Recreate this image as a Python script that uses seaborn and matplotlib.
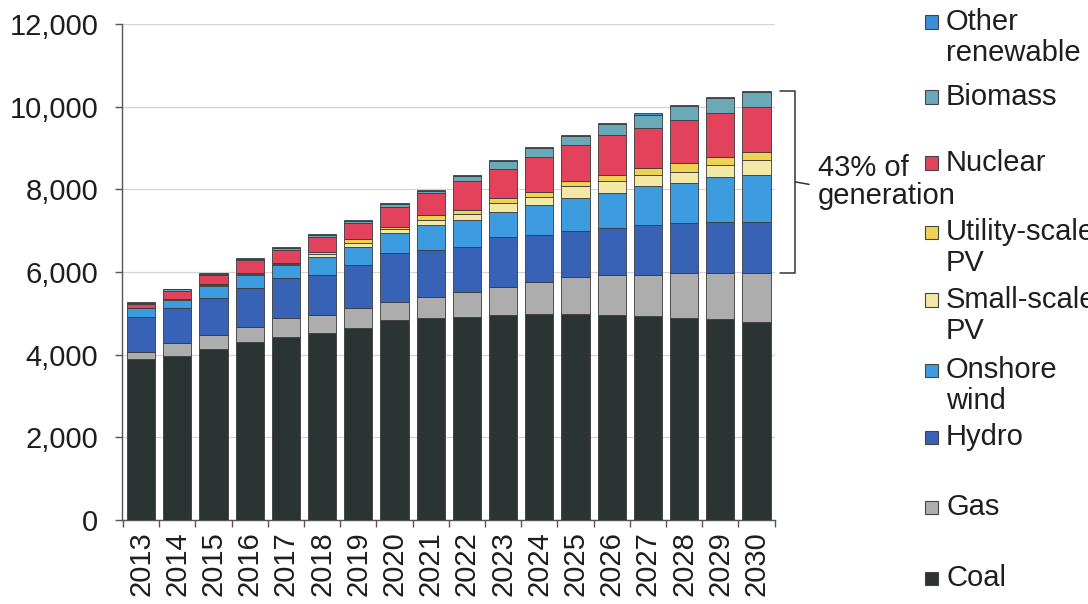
import numpy as np
import pandas as pd
import matplotlib
matplotlib.use("Agg")
import matplotlib.pyplot as plt
from matplotlib.patches import Rectangle
from matplotlib.ticker import FuncFormatter, FixedLocator, NullLocator
import seaborn as sns

years = [str(y) for y in range(2013, 2031)]

coal = [3900, 3970, 4140, 4310, 4430, 4520, 4640, 4840, 4880, 4920, 4960, 4980, 4980, 4960, 4930, 4880, 4860, 4780]
gas = [170, 310, 340, 360, 460, 440, 480, 440, 520, 600, 680, 790, 910, 970, 1000, 1090, 1110, 1190]
hydro = [830, 840, 890, 940, 960, 970, 1050, 1170, 1130, 1090, 1210, 1130, 1090, 1130, 1210, 1210, 1250, 1250]
onshore_wind = [220, 200, 290, 320, 320, 440, 440, 490, 610, 650, 610, 720, 800, 840, 930, 970, 1090, 1130]
small_pv = [10, 10, 20, 20, 30, 60, 90, 90, 120, 140, 200, 200, 290, 290, 280, 280, 280, 360]
utility_pv = [10, 10, 20, 20, 20, 60, 90, 70, 120, 100, 120, 120, 120, 160, 160, 200, 200, 200]
nuclear = [90, 200, 220, 310, 310, 360, 400, 480, 520, 690, 710, 850, 880, 970, 970, 1050, 1050, 1090]
biomass = [30, 40, 30, 30, 40, 50, 50, 60, 60, 130, 190, 210, 220, 250, 330, 330, 370, 360]
other_renewable = [20, 20, 20, 20, 30, 20, 20, 20, 20, 30, 30, 30, 30, 30, 30, 30, 30, 30]

series_names = ["Coal", "Gas", "Hydro", "Onshore wind", "Small-scale PV",
                "Utility-scale PV", "Nuclear", "Biomass", "Other renewable"]
series_values = [coal, gas, hydro, onshore_wind, small_pv, utility_pv,
                 nuclear, biomass, other_renewable]
series_colors = ["#2b3333", "#adadad", "#3762b6", "#3d9be0", "#f3e8a6",
                 "#f0d252", "#e2425c", "#6aaab8", "#3b8fd6"]
legend_labels = ["Other\nrenewable", "Biomass", "Nuclear", "Utility-scale\nPV",
                 "Small-scale\nPV", "Onshore\nwind", "Hydro", "Gas", "Coal"]
yticks = [0, 2000, 4000, 6000, 8000, 10000, 12000]
annotation = "43% of\ngeneration"

sns.set_theme(style="white")
plt.rcParams["font.family"] = ["Liberation Sans", "DejaVu Sans"]
FS = 21
TXT = "#1e1e1e"

W, H = 1088, 604
fig = plt.figure(figsize=(W / 100, H / 100), dpi=100)
ax = fig.add_axes([122 / W, 1 - 520 / H, (775 - 122) / W, (520 - 24) / H])

df = pd.DataFrame({"year": years})
bottom = np.zeros(len(years))
for name, vals, col in zip(series_names, series_values, series_colors):
    df[name] = vals
    sns.barplot(data=df, x="year", y=name, bottom=bottom, color=col,
                saturation=1, width=0.78, errorbar=None, ax=ax,
                edgecolor="#3a3a3a", linewidth=0.6, zorder=3)
    bottom = bottom + np.array(vals)

ax.set_xlim(-0.525, 17.51)
ax.set_ylim(0, 12000)
ax.set_xlabel("")
ax.set_ylabel("")
ax.yaxis.set_major_locator(FixedLocator(yticks))
ax.yaxis.set_major_formatter(FuncFormatter(lambda v, p: f"{int(v):,}"))
ax.grid(axis="y", color="#d4d4d4", linewidth=0.9, zorder=0)
ax.grid(axis="x", visible=False)
for s in ["top", "right"]:
    ax.spines[s].set_visible(False)
for s in ["left", "bottom"]:
    ax.spines[s].set_color("#555555")
    ax.spines[s].set_linewidth(1.0)

ax.tick_params(axis="y", which="major", direction="out", length=5, width=1,
               color="#555555", labelsize=FS, labelcolor=TXT, pad=12, left=True)
ax.set_xticks(range(len(years)))
ax.set_xticklabels(years, rotation=90, fontsize=FS, color=TXT)
ax.tick_params(axis="x", which="major", length=0, pad=8)
ax.set_xticks(np.arange(-0.5, len(years), 1.0), minor=True)
ax.tick_params(axis="x", which="minor", direction="out", length=5, width=1,
               color="#555555", bottom=True)

# bracket marking renewable + nuclear share in 2030
top_v = float(bottom[-1])
bot_v = float(coal[-1] + gas[-1])
mid_v = (top_v + bot_v) / 2
xb = 18.07
ax.plot([17.65, xb, xb, 17.65], [top_v, top_v, bot_v, bot_v], color="#333333",
        lw=1.1, clip_on=False)
ax.plot([xb, 18.45], [mid_v, mid_v - 60], color="#333333", lw=1.1, clip_on=False)
ax.text(18.7, mid_v, annotation, ha="left", va="center", fontsize=FS,
        color=TXT, linespacing=1.0, clip_on=False)

# legend (top to bottom)
legend_colors = series_colors[::-1]
legend_y = [22, 97, 163, 232, 300, 370, 437, 507, 578]
for lab, col, yp in zip(legend_labels, legend_colors, legend_y):
    fig.patches.append(Rectangle((925 / W, 1 - (yp + 6.5) / H), 13 / W, 13 / H,
                                 transform=fig.transFigure, facecolor=col,
                                 edgecolor="#444444", linewidth=0.8))
    fig.text(946 / W, 1 - (yp - 14) / H, lab, ha="left", va="top", fontsize=FS,
             color=TXT, linespacing=1.15)

fig.savefig("out.png", dpi=100)
